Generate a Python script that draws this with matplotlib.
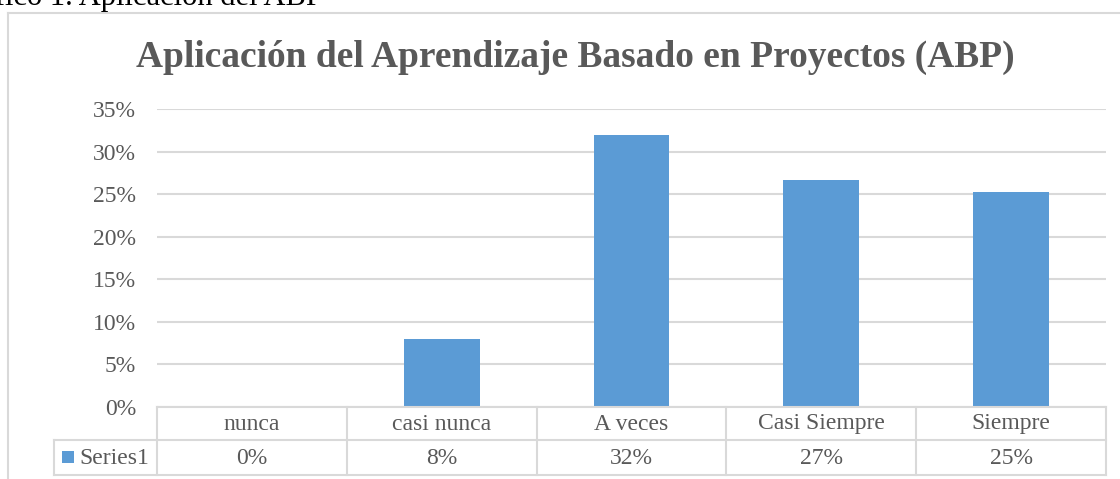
import matplotlib
matplotlib.use('Agg')
import matplotlib.pyplot as plt
from matplotlib.lines import Line2D
from matplotlib.patches import Rectangle
from matplotlib.ticker import PercentFormatter
from matplotlib.transforms import blended_transform_factory

plt.rcParams['font.family'] = ['Liberation Serif', 'DejaVu Serif']

CATEGORIES = ['nunca', 'casi nunca', 'A veces', 'Casi Siempre', 'Siempre']
VALUES = [0.0, 0.08, 0.32, 0.267, 0.253]
TABLE_LABELS = ['0%', '8%', '32%', '27%', '25%']
SERIES_NAME = 'Series1'
TITLE = 'Aplicación del Aprendizaje Basado en Proyectos (ABP)'
CAPTION = 'Gráfico 1. Aplicación del ABP'
Y_TICKS = [0, 0.05, 0.10, 0.15, 0.20, 0.25, 0.30, 0.35]

W, H = 1120, 479
BAR = '#5b9bd5'
GRID = '#d9d9d9'
TXT = '#595959'


def px(x, y):
    # pixel coords (from top-left) -> figure fraction
    return x / W, 1 - y / H


fig = plt.figure(figsize=(W / 100, H / 100), dpi=100)
fig.patch.set_facecolor('white')

# plot area: x 157..1106, y 109 (35%) .. 407 (0%)
L, R, T, B = 157, 1106, 109, 407
ax = fig.add_axes([L / W, 1 - B / H, (R - L) / W, (B - T) / H])
x = range(len(CATEGORIES))
ax.bar(x, VALUES, width=0.4, color=BAR, zorder=3)
ax.set_xlim(-0.5, len(CATEGORIES) - 0.5)
ax.set_ylim(0, 0.35)
ax.set_yticks(Y_TICKS)
ax.yaxis.set_major_formatter(PercentFormatter(1.0, decimals=0))
ax.set_xticks([])
ax.tick_params(axis='y', length=0, pad=15, labelsize=17, labelcolor=TXT)
ax.grid(axis='y', color=GRID, linewidth=1.5, zorder=0)
for sp in ax.spines.values():
    sp.set_visible(False)

# chart frame (extends past the image on right/bottom)
fig.add_artist(Line2D([8 / W, 8 / W], [1 - 13 / H, 0], transform=fig.transFigure,
                      color=GRID, linewidth=1.5))
fig.add_artist(Line2D([8 / W, 1], [1 - 13 / H, 1 - 13 / H], transform=fig.transFigure,
                      color=GRID, linewidth=1.5))

# caption, cut off at the top edge as in the source page
cx, cy = px(323, 5)
fig.text(cx, cy, CAPTION, ha='right', va='baseline', fontsize=22, color='black')

tx, ty = px(575, 67)
fig.text(tx, ty, TITLE, ha='center', va='baseline', fontsize=27,
         fontweight='bold', color=TXT)

# data table under the axis
row1_top, row2_top, row2_bot, leg_left = 407, 440, 475, 54
tr = blended_transform_factory(ax.transData, fig.transFigure)
lines = [
    ([L, R], [row1_top, row1_top]),
    ([leg_left, R], [row2_top, row2_top]),
    ([leg_left, R], [row2_bot, row2_bot]),
    ([leg_left, leg_left], [row2_top, row2_bot]),
]
for xs, ys in lines:
    fig.add_artist(Line2D([v / W for v in xs], [1 - v / H for v in ys],
                          transform=fig.transFigure, color=GRID, linewidth=1.5))
for i in range(len(CATEGORIES) + 1):
    fig.add_artist(Line2D([i - 0.5, i - 0.5], [1 - row1_top / H, 1 - row2_bot / H],
                          transform=tr, color=GRID, linewidth=1.5))
for i, (cat, lab) in enumerate(zip(CATEGORIES, TABLE_LABELS)):
    fig.text(i, 1 - 424 / H, cat, transform=tr, ha='center', va='center',
             fontsize=17, color=TXT)
    fig.text(i, 1 - 458 / H, lab, transform=tr, ha='center', va='center',
             fontsize=17, color=TXT)

fig.add_artist(Rectangle(px(62, 463), 12 / W, 12 / H, transform=fig.transFigure,
                         facecolor=BAR, edgecolor='none'))
fig.text(79 / W, 1 - 458 / H, SERIES_NAME, ha='left', va='center', fontsize=17, color=TXT)

fig.savefig('out.png', dpi=100, facecolor='white')
